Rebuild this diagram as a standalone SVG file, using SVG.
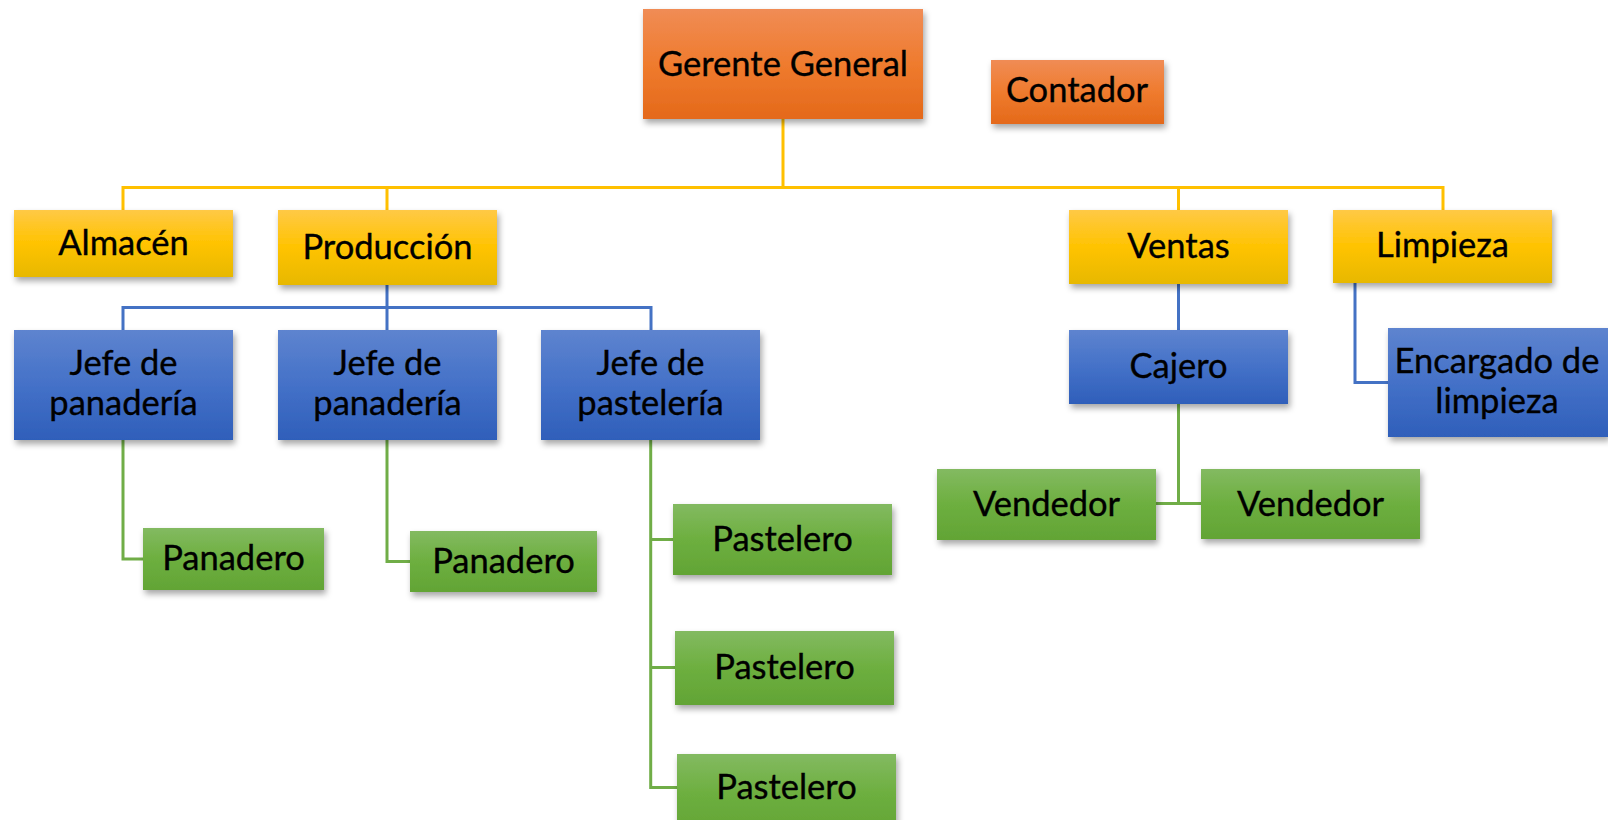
<svg xmlns="http://www.w3.org/2000/svg" width="1608" height="820" viewBox="0 0 1608 820">
<style>
.t{font-family:Lato,"Liberation Sans",sans-serif;font-size:34.5px;fill:#000;stroke:#000;stroke-width:0.35px;text-anchor:middle}
.o{fill:url(#gO);filter:url(#sh)}
.y{fill:url(#gY);filter:url(#sh)}
.b{fill:url(#gB);filter:url(#sh)}
.g{fill:url(#gG);filter:url(#sh)}
.cy{stroke:#FFC000;stroke-width:3;fill:none}
.cb{stroke:#4472C4;stroke-width:3;fill:none}
.cg{stroke:#70AD47;stroke-width:3;fill:none}
</style>
<defs>
<linearGradient id="gO" x1="0" y1="0" x2="0" y2="1"><stop offset="0" stop-color="#F08C55"/><stop offset="0.5" stop-color="#EF7B2E"/><stop offset="1" stop-color="#E4691A"/></linearGradient>
<linearGradient id="gY" x1="0" y1="0" x2="0" y2="1"><stop offset="0" stop-color="#FFC946"/><stop offset="0.5" stop-color="#FFC300"/><stop offset="1" stop-color="#E7B800"/></linearGradient>
<linearGradient id="gB" x1="0" y1="0" x2="0" y2="1"><stop offset="0" stop-color="#5E84CF"/><stop offset="0.5" stop-color="#4471C8"/><stop offset="1" stop-color="#2F5FBA"/></linearGradient>
<linearGradient id="gG" x1="0" y1="0" x2="0" y2="1"><stop offset="0" stop-color="#83BA61"/><stop offset="0.5" stop-color="#6DAF3F"/><stop offset="1" stop-color="#62A435"/></linearGradient>
<filter id="sh" x="-10%" y="-10%" width="120%" height="130%"><feDropShadow dx="2" dy="4" stdDeviation="3" flood-color="#000" flood-opacity="0.35"/></filter>
</defs>
<g id="connectors">
<path class="cy" d="M783 118V187.5M123 210V187.5H1443V210M387 187.5V210M1178.5 187.5V210"/>
<path class="cb" d="M387 285V307.5M123 330V307.5H651V330M387 307.5V330"/>
<path class="cb" d="M1178.5 284V330"/>
<path class="cb" d="M1355 282V382.5H1388"/>
<path class="cg" d="M123 440V559H143"/>
<path class="cg" d="M387 440V561.5H410"/>
<path class="cg" d="M650.7 440V787.5H677M650.7 539.5H673M650.7 667.5H675"/>
<path class="cg" d="M1178.5 404V503.5M1155.8 503.5H1201.2"/>
</g>
<g id="gerente"><rect class="o" x="643" y="9" width="280" height="110"/><text class="t" x="783" y="75.5">Gerente General</text></g>
<g id="contador"><rect class="o" x="991" y="60" width="173" height="64"/><text class="t" x="1077" y="102">Contador</text></g>
<g id="almacen"><rect class="y" x="14" y="210" width="219" height="67"/><text class="t" x="123.5" y="255">Almacén</text></g>
<g id="produccion"><rect class="y" x="278" y="210" width="219" height="75"/><text class="t" x="387.5" y="258.5">Producción</text></g>
<g id="ventas"><rect class="y" x="1069" y="210" width="219" height="74"/><text class="t" x="1178.5" y="258">Ventas</text></g>
<g id="limpieza"><rect class="y" x="1333" y="210" width="219" height="73"/><text class="t" x="1442.5" y="257">Limpieza</text></g>
<g id="jefe1"><rect class="b" x="14" y="330" width="219" height="110"/><text class="t" x="123.5" y="375">Jefe de</text><text class="t" x="123.5" y="415">panadería</text></g>
<g id="jefe2"><rect class="b" x="278" y="330" width="219" height="110"/><text class="t" x="387.5" y="375">Jefe de</text><text class="t" x="387.5" y="415">panadería</text></g>
<g id="jefe3"><rect class="b" x="541" y="330" width="219" height="110"/><text class="t" x="650.5" y="375">Jefe de</text><text class="t" x="650.5" y="415">pastelería</text></g>
<g id="cajero"><rect class="b" x="1069" y="330" width="219" height="74"/><text class="t" x="1178.5" y="378">Cajero</text></g>
<g id="encargado"><rect class="b" x="1388" y="328" width="220" height="109"/><text class="t" x="1497" y="372.5">Encargado de</text><text class="t" x="1497" y="413">limpieza</text></g>
<g id="panadero1"><rect class="g" x="143" y="528" width="181" height="62"/><text class="t" x="233.5" y="570">Panadero</text></g>
<g id="panadero2"><rect class="g" x="410" y="531" width="187" height="61"/><text class="t" x="503.5" y="572.5">Panadero</text></g>
<g id="pastelero1"><rect class="g" x="673" y="504" width="219" height="71"/><text class="t" x="782.5" y="551">Pastelero</text></g>
<g id="pastelero2"><rect class="g" x="675" y="631" width="219" height="74"/><text class="t" x="784.5" y="678.5">Pastelero</text></g>
<g id="pastelero3"><rect class="g" x="677" y="754" width="219" height="80"/><text class="t" x="786.5" y="798.5">Pastelero</text></g>
<g id="vendedor1"><rect class="g" x="937" y="469" width="219" height="71"/><text class="t" x="1046.5" y="515.5">Vendedor</text></g>
<g id="vendedor2"><rect class="g" x="1201" y="469" width="219" height="70"/><text class="t" x="1310.5" y="515.5">Vendedor</text></g>
</svg>
